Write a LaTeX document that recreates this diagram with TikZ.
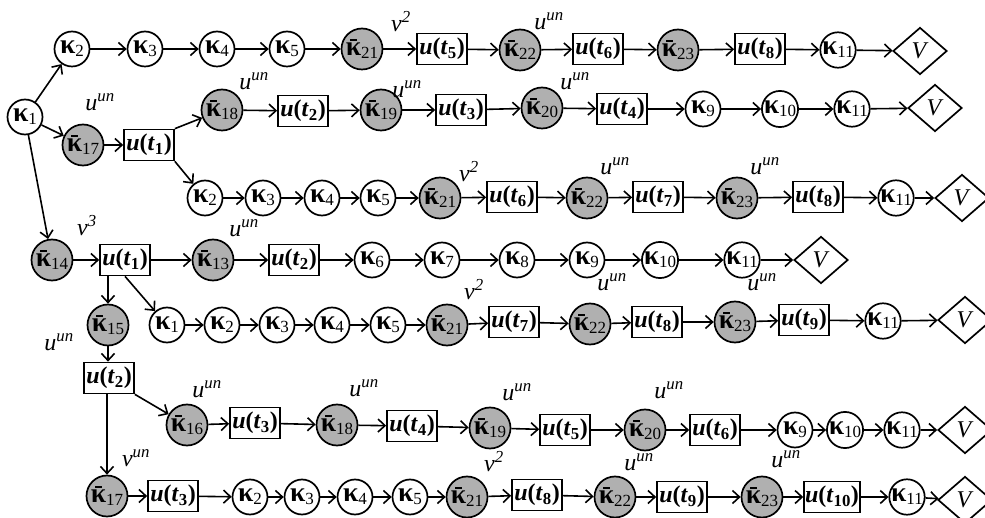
\documentclass[tikz,border=0pt]{standalone}
\usepackage{fontspec}
\usepackage{graphicx}
\setmainfont{Liberation Serif}
\usetikzlibrary{arrows.meta,shapes.geometric}
\newsavebox\kapbox
\newcommand\ksub[1]{\raisebox{-0.3ex}{\fontsize{17}{19}\selectfont #1}}
\newcommand\kp[1]{\scalebox{1.15}{\textbf{κ}}\ksub{#1}}
\newcommand\kb[1]{\sbox\kapbox{\scalebox{1.15}{\textbf{κ}}}%
  \rlap{\kern0.3\wd\kapbox\raisebox{\dimexpr\ht\kapbox+2pt\relax}{\rule{0.4\wd\kapbox}{1.6pt}}}%
  \usebox\kapbox\ksub{#1}}
\newcommand\ut[1]{\textbf{\textit{u}(\textit{t}\textsubscript{#1})}}
\newcommand\uun{\textit{u}\textsuperscript{\textit{un}}}
\newcommand\nus[1]{\textit{ν}\textsuperscript{\textit{#1}}}
\tikzset{
  every node/.style={font=\fontsize{24}{28}\selectfont},
  kn/.style={circle,draw,line width=1.7pt,minimum size=35pt,inner sep=0pt},
  kg/.style={kn,fill=gray!62,minimum size=41pt},
  ub/.style={rectangle,draw,line width=1.7pt,minimum width=50pt,minimum height=31pt,inner sep=1pt},
  vd/.style={diamond,draw,line width=1.7pt,minimum width=54pt,minimum height=47pt,inner sep=0pt},
  lab/.style={inner sep=0pt},
  arr/.style={line width=1.6pt,-{Straight Barb[length=7pt,width=13pt]}}
}
\begin{document}
\begin{tikzpicture}[x=1pt,y=-1pt]
\clip (0,0) rectangle (985,518);
\fill[white] (0,0) rectangle (985,518);
% row 1
\node[kn] (k1) at (25,117) {\kp{1}};
\node[kn] (a2) at (72,49) {\kp{2}};
\node[kn] (a3) at (145,49) {\kp{3}};
\node[kn] (a4) at (217,49) {\kp{4}};
\node[kn] (a5) at (287,49) {\kp{5}};
\node[kg] (a21) at (362,49) {\kb{21}};
\node[ub] (au5) at (442,49) {\ut{5}};
\node[kg] (a22) at (520,50) {\kb{22}};
\node[ub] (au6) at (598,49) {\ut{6}};
\node[kg] (a23) at (678,50) {\kb{23}};
\node[ub] (au8) at (760,49) {\ut{8}};
\node[kn] (a11) at (838,50) {\kp{11}};
\node[vd] (aV) at (920,51) {\textit{V}};
\node[lab] (la1) at (401,22) {\nus{2}};
\node[lab] (la2) at (549,21) {\uun};
% row 2
\node[kg] (b17) at (83,145) {\kb{17}};
\node[ub] (bu1) at (149,145) {\ut{1}};
\node[kg] (b18) at (222,110) {\kb{18}};
\node[ub] (bu2) at (303,111) {\ut{2}};
\node[kg] (b19) at (381,110) {\kb{19}};
\node[ub] (bu3) at (461,110) {\ut{3}};
\node[kg] (b20) at (542,108) {\kb{20}};
\node[ub] (bu4) at (622,109) {\ut{4}};
\node[kn] (b9) at (703,109) {\kp{9}};
\node[kn] (b10) at (780,109) {\kp{10}};
\node[kn] (b11) at (852,109) {\kp{11}};
\node[vd] (bV) at (935,108) {\textit{V}};
\node[lab] (lb1) at (100,102) {\uun};
\node[lab] (lb2) at (254,81) {\uun};
\node[lab] (lb3) at (407,89) {\uun};
\node[lab] (lb4) at (575,81) {\uun};
% row 3
\node[kn] (c2) at (205,198) {\kp{2}};
\node[kn] (c3) at (263,198) {\kp{3}};
\node[kn] (c4) at (322,198) {\kp{4}};
\node[kn] (c5) at (378,198) {\kp{5}};
\node[kg] (c21) at (440,198) {\kb{21}};
\node[ub] (cu6) at (512,197) {\ut{6}};
\node[kg] (c22) at (587,198) {\kb{22}};
\node[ub] (cu7) at (658,197) {\ut{7}};
\node[kg] (c23) at (737,198) {\kb{23}};
\node[ub] (cu8) at (818,197) {\ut{8}};
\node[kn] (c11) at (896,198) {\kp{11}};
\node[vd] (cV) at (962,198) {\textit{V}};
\node[lab] (lc1) at (469,172) {\nus{2}};
\node[lab] (lc2) at (615,166) {\uun};
\node[lab] (lc3) at (765,166) {\uun};
% row 4
\node[kg] (d14) at (52,260) {\kb{14}};
\node[ub] (du1) at (125,260) {\ut{1}};
\node[kg] (d13) at (213,260) {\kb{13}};
\node[ub] (du2) at (294,260) {\ut{2}};
\node[kn] (d6) at (372,260) {\kp{6}};
\node[kn] (d7) at (442,260) {\kp{7}};
\node[kn] (d8) at (517,260) {\kp{8}};
\node[kn] (d9) at (587,260) {\kp{9}};
\node[kn] (d10) at (660,260) {\kp{10}};
\node[kn] (d11) at (742,260) {\kp{11}};
\node[vd] (dV) at (821,260) {\textit{V}};
\node[lab] (ld1) at (87,226) {\nus{3}};
\node[lab] (ld2) at (244,228) {\uun};
% row 5
\node[kg] (e15) at (108,325) {\kb{15}};
\node[kn] (e1) at (167,325) {\kp{1}};
\node[kn] (e2) at (222,325) {\kp{2}};
\node[kn] (e3) at (277,325) {\kp{3}};
\node[kn] (e4) at (332,325) {\kp{4}};
\node[kn] (e5) at (388,325) {\kp{5}};
\node[kg] (e21) at (447,325) {\kb{21}};
\node[ub] (eu7) at (514,322) {\ut{7}};
\node[kg] (e22) at (590,324) {\kb{22}};
\node[ub] (eu8) at (657,322) {\ut{8}};
\node[kg] (e23) at (735,322) {\kb{23}};
\node[ub] (eu9) at (804,320) {\ut{9}};
\node[kn] (e11) at (883,321) {\kp{11}};
\node[vd] (eV) at (965,320) {\textit{V}};
\node[lab] (le1) at (474,290) {\nus{2}};
\node[lab] (le2) at (612,282) {\uun};
\node[lab] (le3) at (762,282) {\uun};
\node[lab] (le4) at (59,342) {\uun};
% row 6
\node[ub] (fu2) at (109,378) {\ut{2}};
\node[kg] (f16) at (187,425) {\kb{16}};
\node[ub] (fu3) at (255,423) {\ut{3}};
\node[kg] (f18) at (337,425) {\kb{18}};
\node[ub] (fu4) at (412,426) {\ut{4}};
\node[kg] (f19) at (490,428) {\kb{19}};
\node[ub] (fu5) at (565,430) {\ut{5}};
\node[kg] (f20) at (645,430) {\kb{20}};
\node[ub] (fu6) at (715,430) {\ut{6}};
\node[kn] (f9) at (795,430) {\kp{9}};
\node[kn] (f10) at (845,430) {\kp{10}};
\node[kn] (f11) at (902,430) {\kp{11}};
\node[vd] (fV) at (965,430) {\textit{V}};
\node[lab] (lf1) at (207,389) {\uun};
\node[lab] (lf2) at (364,388) {\uun};
\node[lab] (lf3) at (517,392) {\uun};
\node[lab] (lf4) at (669,390) {\uun};
% row 7
\node[kg] (g17) at (107,496) {\kb{17}};
\node[ub] (gu3) at (173,496) {\ut{3}};
\node[kn] (g2) at (250,497) {\kp{2}};
\node[kn] (g3) at (302,497) {\kp{3}};
\node[kn] (g4) at (355,497) {\kp{4}};
\node[kn] (g5) at (410,497) {\kp{5}};
\node[kg] (g21) at (467,497) {\kb{21}};
\node[ub] (gu8) at (537,495) {\ut{8}};
\node[kg] (g22) at (615,497) {\kb{22}};
\node[ub] (gu9) at (682,497) {\ut{9}};
\node[kg] (g23) at (762,497) {\kb{23}};
\node[ub] (gu10) at (832,497) {\ut{10}};
\node[kn] (g11) at (907,497) {\kp{11}};
\node[vd] (gV) at (965,500) {\textit{V}};
\node[lab] (lg1) at (136,458) {\nus{un}};
\node[lab] (lg2) at (494,462) {\nus{2}};
\node[lab] (lg3) at (639,462) {\uun};
\node[lab] (lg4) at (786,459) {\uun};
% connectors
\foreach \p/\q in {k1/a2,a2/a3,a3/a4,a4/a5,a5/a21,a21/au5,au5/a22,a22/au6,au6/a23,a23/au8,au8/a11,a11/aV,
  k1/b17,b17/bu1,b18/bu2,bu2/b19,b19/bu3,bu3/b20,b20/bu4,bu4/b9,b9/b10,b10/b11,b11/bV,
  c2/c3,c3/c4,c4/c5,c5/c21,c21/cu6,cu6/c22,c22/cu7,cu7/c23,c23/cu8,cu8/c11,c11/cV,
  k1/d14,d14/du1,du1/d13,d13/du2,du2/d6,d6/d7,d7/d8,d8/d9,d9/d10,d10/d11,d11/dV,
  e1/e2,e2/e3,e3/e4,e4/e5,e5/e21,e21/eu7,eu7/e22,e22/eu8,eu8/e23,e23/eu9,eu9/e11,e11/eV,
  f16/fu3,fu3/f18,f18/fu4,fu4/f19,f19/fu5,fu5/f20,f20/fu6,fu6/f9,f9/f10,f10/f11,f11/fV,
  g17/gu3,gu3/g2,g2/g3,g3/g4,g4/g5,g5/g21,g21/gu8,gu8/g22,g22/gu9,gu9/g23,g23/gu10,gu10/g11,g11/gV}
  \draw[arr] (\p) -- (\q);
\draw[arr] (bu1.north east) -- (b18);
\draw[arr] (bu1.south east) -- (c2);
\draw[arr] (du1.south -| e15.north) -- (e15.north);
\draw[arr] (du1.south) -- (e1);
\draw[arr] (e15.south) -- (fu2.north -| e15.south);
\draw[arr] (fu2.south east) -- (f16);
\draw[arr] (fu2.south -| g17.north) -- (g17.north);
\end{tikzpicture}
\end{document}
